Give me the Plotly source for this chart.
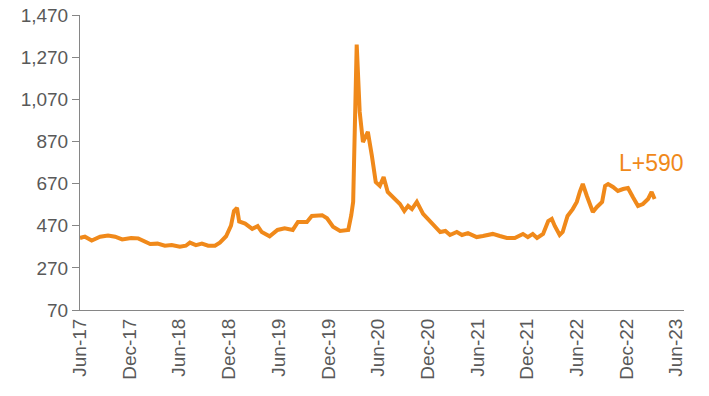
import plotly.graph_objects as go

dates = [
    "2017-06-01", "2017-06-19", "2017-07-14", "2017-08-14", "2017-09-12", "2017-10-08",
    "2017-11-03", "2017-12-06", "2018-01-01", "2018-01-26", "2018-02-14", "2018-03-13",
    "2018-04-09", "2018-05-04", "2018-06-03", "2018-06-25", "2018-07-10", "2018-08-01",
    "2018-08-23", "2018-09-15", "2018-10-10", "2018-10-28", "2018-11-20", "2018-12-08",
    "2018-12-19", "2018-12-30", "2019-01-07", "2019-01-29", "2019-02-24", "2019-03-16",
    "2019-03-31", "2019-04-29", "2019-05-28", "2019-06-23", "2019-07-23", "2019-08-11",
    "2019-09-13", "2019-10-01", "2019-11-08", "2019-11-26", "2019-12-18", "2020-01-13",
    "2020-02-12", "2020-02-23", "2020-03-01", "2020-03-14", "2020-03-25", "2020-04-06",
    "2020-04-24", "2020-05-09", "2020-05-23", "2020-06-07", "2020-06-21", "2020-07-06",
    "2020-08-02", "2020-08-20", "2020-09-05", "2020-09-19", "2020-10-03", "2020-10-21",
    "2020-11-13", "2020-12-08", "2020-12-26", "2021-01-15", "2021-02-03", "2021-02-20",
    "2021-03-17", "2021-04-05", "2021-04-27", "2021-05-29", "2021-06-21", "2021-07-27",
    "2021-08-22", "2021-09-17", "2021-10-16", "2021-11-15", "2021-12-03", "2021-12-21",
    "2022-01-06", "2022-01-28", "2022-02-16", "2022-03-01", "2022-03-12", "2022-03-30",
    "2022-04-10", "2022-04-28", "2022-05-17", "2022-06-01", "2022-06-12", "2022-06-23",
    "2022-07-08", "2022-07-19", "2022-07-30", "2022-08-14", "2022-09-02", "2022-09-13",
    "2022-09-24", "2022-10-12", "2022-10-30", "2022-11-18", "2022-12-06", "2022-12-24",
    "2023-01-12", "2023-01-30", "2023-02-18", "2023-03-03", "2023-03-14",
]
spread = [
    412, 418, 400, 418, 424, 418,
    405, 412, 410, 395, 383, 385,
    375, 378, 370, 375, 390, 378,
    385, 375, 375, 390, 420, 470,
    540, 555, 490, 480, 455, 468,
    440, 420, 450, 458, 450, 488,
    488, 516, 520, 505, 465, 445,
    450, 520, 583, 1330, 1010, 867,
    915, 800, 677, 659, 701, 630,
    597, 573, 540, 564, 549, 583,
    526, 492, 469, 440, 445, 426,
    440, 426, 435, 416, 421, 431,
    421, 412, 412, 431, 416, 431,
    412, 431, 492, 502, 469, 426,
    440, 516, 549, 583, 630, 668,
    611, 573, 535, 559, 583, 659,
    668, 654, 635, 644, 649, 606,
    564, 573, 597, 630, 597,
]

y_ticks = [70, 270, 470, 670, 870, 1070, 1270, 1470]
x_tick_dates = [
    "2017-06-01", "2017-12-01", "2018-06-01", "2018-12-01", "2019-06-01",
    "2019-12-01", "2020-06-01", "2020-12-01", "2021-06-01", "2021-12-01",
    "2022-06-01", "2022-12-01", "2023-06-01",
]
x_tick_labels = [
    "Jun-17", "Dec-17", "Jun-18", "Dec-18", "Jun-19", "Dec-19", "Jun-20",
    "Dec-20", "Jun-21", "Dec-21", "Jun-22", "Dec-22", "Jun-23",
]
label_text = "L+590"

orange = "#F0891A"
grey_text = "#595959"
axis_grey = "#868686"
font_family = "Liberation Sans, Arial, sans-serif"

fig = go.Figure()
fig.add_trace(go.Scatter(
    x=dates, y=spread, mode="lines",
    line=dict(color=orange, width=4, shape="linear"),
    showlegend=False, hoverinfo="skip",
))

fig.add_annotation(
    x=0.947, y=0.50, xref="paper", yref="paper",
    text=label_text, showarrow=False,
    font=dict(family=font_family, size=23, color=orange),
    xanchor="center", yanchor="middle",
)

fig.update_layout(
    width=709, height=396,
    margin=dict(l=80, r=25, t=15, b=86, autoexpand=False),
    paper_bgcolor="white", plot_bgcolor="white",
    font=dict(family=font_family, color=grey_text),
)
fig.update_xaxes(
    range=["2017-06-01", "2023-06-30"],
    tickvals=x_tick_dates, ticktext=x_tick_labels,
    tickangle=-90, tickfont=dict(size=19, color=grey_text),
    showgrid=False, zeroline=False, automargin=False,
    ticklabeloverflow="allow",
    showline=True, linecolor=axis_grey, linewidth=1,
    ticks="", ticklen=0,
)
fig.update_yaxes(
    range=[70, 1470],
    tickvals=y_ticks, ticktext=[f"{v:,}" for v in y_ticks],
    tickfont=dict(size=19, color=grey_text),
    showgrid=False, zeroline=False, automargin=False,
    ticklabeloverflow="allow",
    showline=True, linecolor=axis_grey, linewidth=1,
    ticks="outside", ticklen=7, tickcolor=axis_grey,
)

fig.write_html(
    "out.html",
    config={"displayModeBar": False, "staticPlot": True},
    post_script="document.body.style.margin='0';document.body.style.overflow='hidden';",
)
